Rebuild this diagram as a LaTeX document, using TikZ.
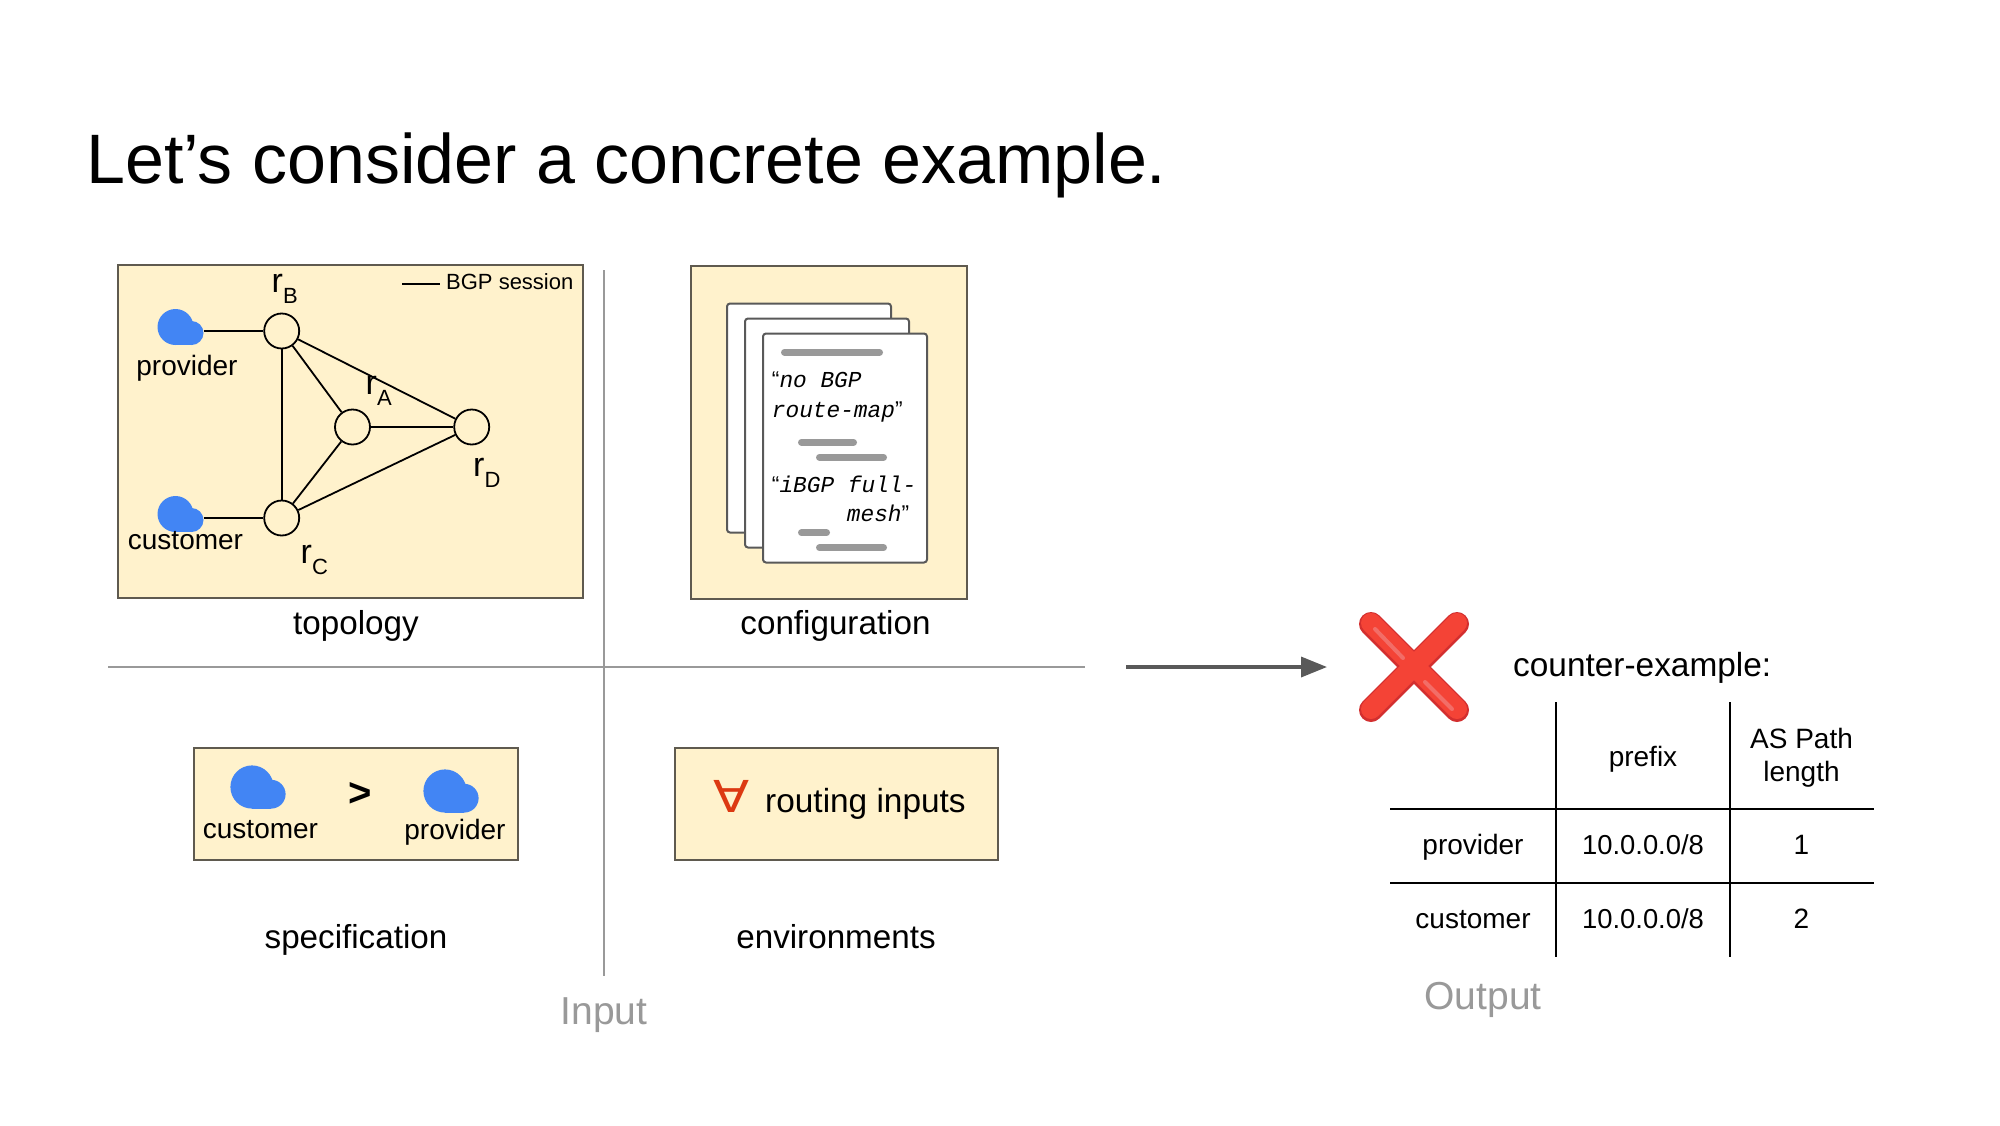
\documentclass[tikz,border=0pt]{standalone}
\usepackage{fontspec}
\setmainfont{Liberation Sans}
\newfontfamily\codefont{Liberation Mono}
\newfontfamily\symbolfont{DejaVu Sans}
\usetikzlibrary{arrows.meta,positioning}

\definecolor{panelfill}{HTML}{FFF2CC}
\definecolor{panelline}{HTML}{5F5A4F}
\definecolor{cloudblue}{HTML}{4285F4}
\definecolor{rulegray}{HTML}{999999}
\definecolor{arrowgray}{HTML}{595959}
\definecolor{crossred}{HTML}{F44336}
\definecolor{crossdark}{HTML}{D32F2F}
\definecolor{crosslight}{HTML}{F26D67}
\definecolor{forallred}{HTML}{DC3912}

\newcommand{\fsize}[1]{\fontsize{#1}{#1}\selectfont}
\newcommand{\rname}[1]{r\raisebox{-11pt}{\fsize{22}#1}}

\tikzset{
  panelbox/.style = {draw = panelline, fill = panelfill, line width = 2pt, inner sep = 0pt},
  pagebox/.style = {draw = arrowgray, fill = white, line width = 2pt, rounded corners = 3pt, inner sep = 0pt, minimum width = 164pt, minimum height = 229pt},
  router/.style = {circle, draw = black, fill = panelfill, line width = 1.8pt, inner sep = 0pt, minimum size = 35pt},
  session/.style = {black, line width = 1.8pt},
  cloudicon/.style = {inner sep = 0pt, minimum width = 46pt * #1, minimum height = 38pt * #1,
    path picture = {
      \fill[cloudblue, shift = {(path picture bounding box.center)}] (-5*#1,0) circle ({18*#1 pt});
      \fill[cloudblue, shift = {(path picture bounding box.center)}] (11*#1,6*#1) circle ({12*#1 pt});
      \fill[cloudblue, shift = {(path picture bounding box.center)}] (-5*#1,0) -- (11*#1,0) -- (11*#1,18*#1) -- (-5*#1,18*#1) -- cycle;
    }},
  textbar/.style = {rulegray, line width = 7pt, line cap = round},
  rulegrid/.style = {rulegray, line width = 2pt},
  tablerule/.style = {black, line width = 2pt},
  label/.style = {anchor = base, inner sep = 0pt, font = \fsize{33.2}},
  small/.style = {anchor = base, inner sep = 0pt, font = \fsize{28}},
  routerlabel/.style = {anchor = base west, inner sep = 0pt, font = \fsize{34}},
  codeline/.style = {anchor = base west, inner sep = 0pt, font = \codefont\itshape\fsize{22.8}},
  faded/.style = {anchor = base, inner sep = 0pt, text = rulegray, font = \fsize{39}}
}

\begin{document}
\begin{tikzpicture}[x = 1pt, y = -1pt]
\path[use as bounding box, fill = white] (0,0) rectangle (2000,1125);

\node[anchor = base west, inner sep = 0pt, font = \fsize{70}] (title) at (86,183) {Let’s consider a concrete example.};

% panels
\node[panelbox, minimum width = 465pt, minimum height = 333pt] (topobox) at (350.5,431.5) {};
\node[panelbox, minimum width = 276pt, minimum height = 333pt] (confbox) at (829,432) {};
\node[panelbox, minimum width = 324pt, minimum height = 112pt] (specbox) at (356,804) {};
\node[panelbox, minimum width = 323pt, minimum height = 112pt] (envbox) at (836,804) {};

% axes
\coordinate (axistop) at (604,270);
\coordinate (axisbottom) at (604,976);
\coordinate (axisleft) at (108,667);
\coordinate (axisright) at (1085,667);
\draw[rulegrid] (axistop) -- (axisbottom);
\draw[rulegrid] (axisleft) -- (axisright);

% topology
\node[router] (rB) at (281.7,331) {};
\node[router] (rA) at (352.5,427) {};
\node[router] (rC) at (281.7,518) {};
\node[router] (rD) at (471.7,427) {};
\node[cloudicon = 1] (cloudP) at (180.5,327) {};
\node[cloudicon = 1] (cloudC) at (180.5,514) {};
\draw[session] (cloudP.east |- rB) -- (rB);
\draw[session] (cloudC.east |- rC) -- (rC);
\draw[session] (rB) -- (rC);
\draw[session] (rB) -- (rA);
\draw[session] (rB) -- (rD);
\draw[session] (rC) -- (rA);
\draw[session] (rC) -- (rD);
\draw[session] (rA) -- (rD);
\node[routerlabel] (labelB) at (271.5,292) {\rname{B}};
\node[routerlabel] (labelA) at (365.5,394) {\rname{A}};
\node[routerlabel] (labelC) at (300.5,563) {\rname{C}};
\node[routerlabel] (labelD) at (473,476) {\rname{D}};
\node[small] (labelP) at (187,375) {provider};
\node[small] (labelQ) at (185.5,549) {customer};
\coordinate (legendleft) at (402,283.7);
\coordinate (legendright) at (440,283.7);
\draw[session] (legendleft) -- (legendright);
\node[anchor = base west, inner sep = 0pt, font = \fsize{22}] (legendtext) at (446,289) {BGP session};
\node[label] (topolabel) at (356,634) {topology};

% configuration
\node[pagebox] (pageA) at (809,418) {};
\node[pagebox] (pageB) at (827,433) {};
\node[pagebox] (pageC) at (845,448) {};
\draw[textbar] (784.5,352.3) -- (879.5,352.3);
\draw[textbar] (801.5,442.3) -- (853.5,442.3);
\draw[textbar] (819.5,457.3) -- (883.5,457.3);
\draw[textbar] (801.5,532.7) -- (826.5,532.7);
\draw[textbar] (819.5,547.7) -- (883.5,547.7);
\node[codeline] (codeA) at (771.7,387) {{\rmfamily\upshape “}no BGP};
\node[codeline] (codeB) at (771.7,417.5) {route-map{\rmfamily\upshape ”}};
\node[codeline] (codeC) at (771.7,492) {{\rmfamily\upshape “}iBGP full-};
\node[codeline] (codeD) at (846.7,521.7) {mesh{\rmfamily\upshape ”}};
\node[label] (conflabel) at (835.5,634) {configuration};

% specification
\node[cloudicon = 1.2] (cloudX) at (258,787) {};
\node[cloudicon = 1.2] (cloudY) at (451,791) {};
\node[anchor = base, inner sep = 0pt, font = \bfseries\fsize{40}] (gtsign) at (360,806) {>};
\node[small] (specQ) at (260.5,838) {customer};
\node[small] (specP) at (455,839) {provider};
\node[label] (speclabel) at (356,948) {specification};

% environments
\node[anchor = base, inner sep = 0pt, text = forallred, font = \symbolfont\fsize{44}] (forall) at (732,812) {\scalebox{1.2}[1]{∀}};
\node[anchor = base west, inner sep = 0pt, font = \fsize{33.4}] (routing) at (765,812) {routing inputs};
\node[label] (envlabel) at (836,948) {environments};

\node[faded] (inputlabel) at (604,1024) {Input};

% result
\coordinate (arrowstart) at (1126,667);
\coordinate (arrowend) at (1327,667);
\draw[arrowgray, line width = 3.5pt, -{Triangle[length = 26pt, width = 20pt]}] (arrowstart) -- (arrowend);
\draw[crossdark, line width = 24pt, line cap = round] (1371,624) -- (1457,710);
\draw[crossdark, line width = 24pt, line cap = round] (1457,624) -- (1371,710);
\draw[crossred, line width = 20pt, line cap = round] (1371,623) -- (1457,709);
\draw[crossred, line width = 20pt, line cap = round] (1457,623) -- (1371,709);
\draw[crosslight, line width = 4pt, line cap = round] (1375,629) -- (1403,658);
\draw[crosslight, line width = 4pt, line cap = round] (1425,682) -- (1452,709);
\node[anchor = base west, inner sep = 0pt, font = \fsize{33.4}] (counter) at (1513,676) {counter-example:};

% table
\coordinate (colAtop) at (1556,702);
\coordinate (colAbottom) at (1556,957);
\coordinate (colBtop) at (1730,702);
\coordinate (colBbottom) at (1730,957);
\coordinate (rowAleft) at (1390,809);
\coordinate (rowAright) at (1874,809);
\coordinate (rowBleft) at (1390,883);
\coordinate (rowBright) at (1874,883);
\draw[tablerule] (colAtop) -- (colAbottom);
\draw[tablerule] (colBtop) -- (colBbottom);
\draw[tablerule] (rowAleft) -- (rowAright);
\draw[tablerule] (rowBleft) -- (rowBright);
\node[small] (headprefix) at (1643,766) {prefix};
\node[small] (headpathA) at (1801.5,748) {AS Path};
\node[small] (headpathB) at (1801.5,781) {length};
\node[small] (rowprovider) at (1473,854) {provider};
\node[small, font = \fsize{27.4}] (prefixA) at (1643,854) {10.0.0.0/8};
\node[small] (lengthA) at (1801.5,854) {1};
\node[small] (rowcustomer) at (1473,928) {customer};
\node[small, font = \fsize{27.4}] (prefixB) at (1643,928) {10.0.0.0/8};
\node[small] (lengthB) at (1801.5,928) {2};
\node[faded] (outputlabel) at (1483,1009) {Output};
\end{tikzpicture}
\end{document}
